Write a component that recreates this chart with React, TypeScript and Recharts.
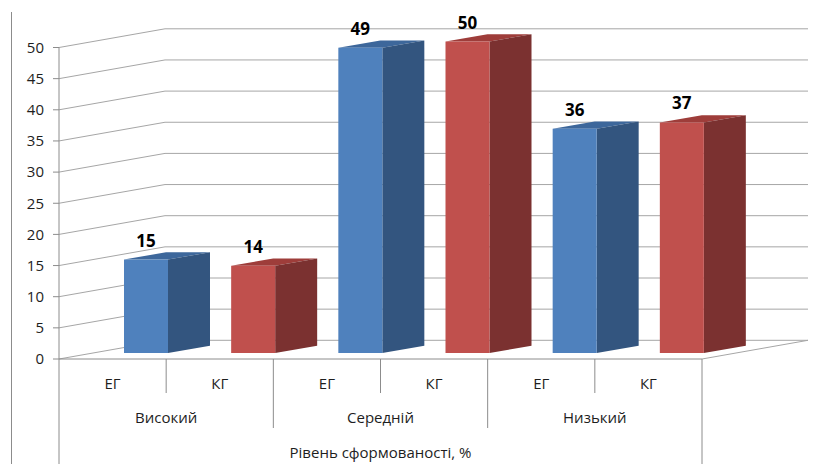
import { BarChart, Bar, XAxis, YAxis, CartesianGrid, Cell, LabelList } from 'recharts';

// categories (two-level axis) and values
const SUBGROUPS = ['ЕГ', 'КГ', 'ЕГ', 'КГ', 'ЕГ', 'КГ'];
const LEVELS = ['Високий', 'Середній', 'Низький'];
const VALUES = [15, 14, 49, 50, 36, 37];
const Y_TICKS = [0, 5, 10, 15, 20, 25, 30, 35, 40, 45, 50];
const AXIS_TITLE = 'Рівень сформованості, %';

// face colours per subgroup: front, side, top
const FACE_COLORS: Record<string, { front: string; side: string; top: string }> = {
    'ЕГ': { front: '#4F81BD', side: '#33557F', top: '#3D679B' },
    'КГ': { front: '#C0504D', side: '#7B3130', top: '#9E3D3A' },
};

const W = 830;
const H = 464;
const LEFT = 59;
const RIGHT = 702;
const TOP = 47.5;
const BOTTOM = 359;
const BAND = (RIGHT - LEFT) / SUBGROUPS.length;

// perspective of the box (back wall offset)
const DEPTH_X = 106;
const DEPTH_Y = 18.7;
// bar placement inside the box
const BAR_DX = 33;
const BAR_DY = -6;
const SIDE_X = 42;
const SIDE_Y = -7.3;

const GRID = '#A6A6A6';
const AXIS = '#8C8C8C';
const TEXT = '#1E1E1E';
const FONT = "'Open Sans', 'Noto Sans', sans-serif";
const FONT_SIZE = 15;

const data = SUBGROUPS.map((s, i) => ({
    id: `${LEVELS[Math.floor(i / 2)]}|${s}`,
    sub: s,
    value: VALUES[i],
}));

const gridLine = (p: any) => {
    const { x1, x2, y1, key } = p;
    const yb = y1 - DEPTH_Y;
    return (
        <g key={key}>
            <polyline
                points={`${x1},${y1} ${x1 + DEPTH_X},${yb} ${x2 + DEPTH_X},${yb}`}
                fill="none"
                stroke={GRID}
                strokeWidth={1}
            />
            {Math.abs(y1 - BOTTOM) < 1 && (
                <line x1={x2} y1={y1} x2={x2 + DEPTH_X} y2={yb} stroke={GRID} strokeWidth={1} />
            )}
        </g>
    );
};

const Bar3D = (props: any) => {
    const { x, y, width, height, index } = props;
    const c = FACE_COLORS[SUBGROUPS[index]];
    const fx = x + BAR_DX;
    const fy = y + BAR_DY;
    const rx = fx + width;
    return (
        <g>
            <polygon
                points={`${fx},${fy} ${fx + SIDE_X},${fy + SIDE_Y} ${rx + SIDE_X},${fy + SIDE_Y} ${rx},${fy}`}
                fill={c.top}
            />
            <polygon
                points={`${rx},${fy} ${rx + SIDE_X},${fy + SIDE_Y} ${rx + SIDE_X},${fy + height + SIDE_Y} ${rx},${fy + height}`}
                fill={c.side}
            />
            <rect x={fx} y={fy} width={width} height={height} fill={c.front} />
        </g>
    );
};

const valueLabel = (props: any) => {
    const { x, y, width, value } = props;
    return (
        <text
            x={x + BAR_DX + width / 2}
            y={y + BAR_DY - 13}
            textAnchor="middle"
            fontFamily={FONT}
            fontWeight={700}
            fontSize={17}
            fill="#000"
        >
            {value}
        </text>
    );
};

const CategoryTick = (props: any) => {
    const { x, index } = props;
    const right = x + BAND / 2;
    const lineEnd = index === SUBGROUPS.length - 1 ? H : index % 2 === 1 ? 428 : 393;
    return (
        <g>
            {index === 0 && <line x1={x - BAND / 2} y1={BOTTOM} x2={x - BAND / 2} y2={H} stroke={AXIS} />}
            <line x1={right} y1={BOTTOM} x2={right} y2={lineEnd} stroke={AXIS} />
            <text x={x} y={389} textAnchor="middle" fontFamily={FONT} fontSize={FONT_SIZE} fill={TEXT}>
                {SUBGROUPS[index]}
            </text>
            {index % 2 === 1 && (
                <text x={x - BAND / 2} y={423} textAnchor="middle" fontFamily={FONT} fontSize={FONT_SIZE} fill={TEXT}>
                    {LEVELS[Math.floor(index / 2)]}
                </text>
            )}
        </g>
    );
};

export default function App() {
    return (
        <div style={{ position: 'relative', width: W, height: H, background: '#fff' }}>
            <style>{`body{margin:0}`}</style>
            <div style={{ position: 'absolute', left: 11, top: 12, width: 1, height: H - 12, background: AXIS }} />
            <BarChart
                width={W}
                height={H}
                data={data}
                barSize={44}
                margin={{ top: TOP, right: W - RIGHT, bottom: 0, left: 0 }}
            >
                <CartesianGrid vertical={false} horizontal={gridLine} />
                <YAxis
                    width={LEFT}
                    domain={[0, 50]}
                    ticks={Y_TICKS}
                    interval={0}
                    axisLine={{ stroke: AXIS }}
                    tickLine={{ stroke: AXIS }}
                    tickSize={6}
                    tickMargin={9}
                    tick={{ fontFamily: FONT, fontSize: FONT_SIZE, fill: TEXT }}
                />
                <XAxis
                    dataKey="id"
                    height={H - BOTTOM}
                    interval={0}
                    axisLine={{ stroke: AXIS }}
                    tickLine={false}
                    tick={<CategoryTick />}
                    label={{ value: AXIS_TITLE, position: 'insideBottom', offset: 6, fontFamily: FONT, fontSize: FONT_SIZE, fill: TEXT }}
                />
                <Bar dataKey="value" shape={<Bar3D />} isAnimationActive={false}>
                    {data.map((d, i) => (
                        <Cell key={i} fill={FACE_COLORS[d.sub].front} />
                    ))}
                    <LabelList dataKey="value" content={valueLabel} />
                </Bar>
            </BarChart>
        </div>
    );
}
